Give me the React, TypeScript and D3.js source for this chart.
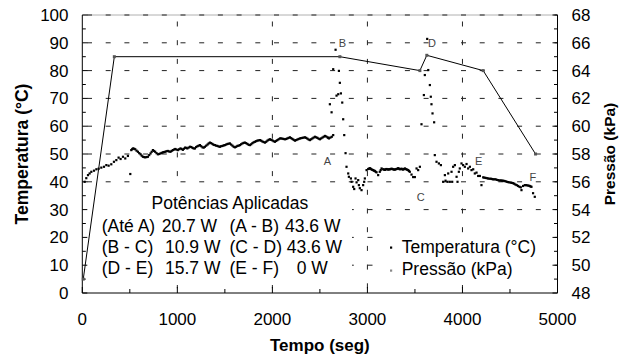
import React from "react";
import * as d3 from "d3";

// ---- data ----
const xTicks = [0, 1000, 2000, 3000, 4000, 5000];
const yLeftTicks = [0, 10, 20, 30, 40, 50, 60, 70, 80, 90, 100];
const yRightTicks = [48, 50, 52, 54, 56, 58, 60, 62, 64, 66, 68];

// line series (right axis, kPa)
const pressTime = [10, 337, 2710, 3552, 3625, 4218, 4769];
const pressValue = [49.0, 65.0, 65.0, 64.0, 65.1, 64.0, 58.0];

// scattered temperature readings (left axis, °C)
const tempStart: [number, number][] = [
  [25, 40.0], [42, 41.3], [60, 42.4], [77, 43.0], [95, 43.6], [123, 44.0], [148, 44.5], [172, 44.7],
  [200, 45.1], [228, 45.4], [253, 46.0], [277, 45.8], [305, 46.3], [333, 47.2], [358, 47.8], [382, 48.7],
  [403, 48.2], [428, 49.0], [452, 48.4], [480, 49.3], [505, 42.8], [515, 51.4], [533, 52.0], [557, 51.7],
  [585, 50.8], [613, 49.9], [638, 49.0], [662, 48.8], [690, 49.0], [718, 50.2], [743, 51.4], [767, 50.8],
  [795, 49.9], [823, 50.2], [848, 50.6], [873, 50.8], [900, 51.1], [928, 50.8], [953, 51.4], [978, 51.8],
  [1005, 51.4], [1033, 52.0], [1058, 51.5], [1082, 52.3],
  [524, 51.7], [545, 51.9], [571, 51.2], [599, 50.3], [625, 49.4], [650, 48.9], [676, 48.9], [704, 49.6],
  [730, 50.8], [755, 51.1], [781, 50.3], [809, 50.0], [835, 50.4], [860, 50.7], [886, 51.0], [914, 50.9],
  [940, 51.1], [966, 51.6], [991, 51.6], [1019, 51.7], [1045, 51.8], [1070, 51.9], [1094, 52.2],
];
const tempPlateau: [number, number][] = [
  [1105, 52.0], [1133, 52.6], [1160, 52.2], [1185, 52.0], [1212, 52.8], [1238, 53.2], [1265, 52.4], [1290, 52.6],
  [1318, 53.4], [1343, 54.1], [1370, 53.6], [1395, 53.2], [1422, 52.9], [1448, 52.6], [1475, 52.9], [1500, 53.2],
  [1527, 53.6], [1553, 53.8], [1580, 53.0], [1606, 52.4], [1632, 52.9], [1658, 53.2], [1685, 53.8], [1711, 54.1],
  [1738, 53.6], [1764, 53.2], [1790, 53.9], [1816, 54.4], [1842, 54.8], [1869, 55.0], [1895, 54.5], [1922, 54.1],
  [1948, 54.8], [1974, 55.3], [2000, 54.9], [2027, 54.4], [2053, 55.0], [2080, 55.6], [2106, 55.5], [2132, 55.3],
  [2158, 55.6], [2185, 56.0], [2211, 55.4], [2237, 54.8], [2263, 55.2], [2290, 55.6], [2316, 55.8], [2343, 56.0],
  [2369, 55.5], [2395, 55.0], [2421, 55.6], [2448, 56.2], [2474, 55.8], [2500, 55.3], [2527, 55.9], [2553, 56.5],
  [2580, 56.0], [2595, 55.6], [2625, 56.2], [2640, 56.8],
  [1119, 52.3], [1147, 52.5], [1172, 52.0], [1198, 52.5], [1225, 53.0], [1251, 52.8], [1278, 52.3], [1304, 53.0],
  [1330, 53.8], [1356, 53.9], [1382, 53.3], [1409, 53.0], [1435, 52.7], [1461, 52.8], [1488, 53.1], [1514, 53.4],
  [1540, 53.7], [1566, 53.4], [1593, 52.6], [1619, 52.6], [1645, 53.0], [1671, 53.5], [1698, 54.0], [1724, 53.9],
  [1751, 53.3], [1777, 53.5], [1803, 54.2], [1829, 54.6], [1855, 54.9], [1882, 54.8], [1908, 54.3], [1935, 54.4],
  [1961, 55.1], [1987, 55.1], [2013, 54.6], [2040, 54.7], [2066, 55.3], [2093, 55.6], [2119, 55.4], [2145, 55.4],
  [2171, 55.8], [2198, 55.7], [2224, 55.1], [2250, 55.0], [2276, 55.4], [2303, 55.7], [2329, 55.9], [2356, 55.8],
  [2382, 55.2], [2408, 55.3], [2434, 55.9], [2461, 56.0], [2487, 55.5], [2513, 55.6], [2540, 56.2], [2566, 56.3],
  [2588, 55.8], [2610, 55.9],
];
const tempPeakB: [number, number][] = [
  [2605, 67.9], [2623, 65.0], [2640, 80.5], [2665, 87.5], [2675, 71.0], [2693, 71.5], [2700, 79.9], [2710, 75.6],
  [2721, 71.8], [2735, 68.5], [2745, 62.5], [2756, 56.8], [2770, 50.3], [2780, 45.4],
];
const tempLowC: [number, number][] = [
  [2798, 43.0], [2805, 41.8], [2826, 41.2], [2833, 40.0], [2850, 38.2], [2861, 37.4], [2875, 41.2], [2886, 39.8],
  [2903, 40.6], [2910, 38.8], [2920, 37.7], [2938, 37.0], [2955, 38.8], [2966, 40.0], [2973, 41.2], [2991, 44.2],
  [3008, 44.6], [3025, 44.9], [3042, 44.5], [3060, 44.2], [3078, 43.9], [3096, 43.4], [3113, 42.4], [3130, 43.6],
  [3149, 44.8], [3166, 44.5], [3184, 44.3], [3201, 44.6], [3219, 44.4], [3236, 44.5], [3254, 44.7], [3271, 44.5],
  [3289, 44.4], [3306, 44.6], [3324, 44.9], [3341, 44.5], [3359, 44.7], [3376, 44.4], [3394, 44.8], [3411, 44.5],
  [3429, 44.2], [3446, 43.6], [3464, 42.6], [3481, 41.7], [3499, 41.7], [3517, 44.8], [3534, 44.2], [3552, 45.4],
  [3017, 44.7], [3034, 44.7], [3051, 44.3], [3069, 44.0], [3087, 43.6], [3140, 44.2], [3175, 44.4], [3193, 44.5],
  [3210, 44.5], [3228, 44.5], [3245, 44.6], [3262, 44.6], [3280, 44.4], [3297, 44.5], [3315, 44.7], [3332, 44.7],
  [3350, 44.6], [3367, 44.5], [3385, 44.6], [3402, 44.6], [3420, 44.3], [3437, 43.9],
];
const tempPeakD: [number, number][] = [
  [3569, 60.7], [3594, 71.2], [3604, 78.4], [3629, 91.4], [3640, 80.2], [3657, 74.8], [3667, 70.6], [3674, 67.9],
  [3685, 64.6], [3702, 61.4], [3709, 49.6], [3727, 47.2], [3752, 46.6], [3773, 46.0],
];
const tempEF: [number, number][] = [
  [3797, 40.0], [3815, 42.4], [3822, 40.4], [3843, 40.0], [3850, 43.0], [3867, 40.0], [3885, 43.6], [3892, 40.0],
  [3902, 45.4], [3920, 46.0], [3938, 41.8], [3948, 40.0], [3962, 43.6], [3972, 44.8], [3990, 46.6], [4007, 46.0],
  [4025, 45.4], [4043, 46.4], [4060, 44.8], [4078, 45.4], [4095, 44.2], [4113, 44.5], [4130, 43.0], [4148, 43.3],
  [4165, 42.1], [4183, 42.1], [4200, 38.8], [4218, 41.6], [4243, 41.4], [4270, 41.2], [4298, 41.1], [4322, 40.9],
  [4348, 40.9], [4375, 40.6], [4403, 40.5], [4428, 40.4], [4453, 40.2], [4480, 39.9], [4509, 39.7], [4533, 39.5],
  [4558, 39.0], [4585, 38.5], [4614, 38.0], [4621, 37.0], [4638, 38.5], [4656, 38.8], [4684, 38.7], [4708, 38.5],
  [4726, 38.2], [4743, 35.9], [4761, 34.6],
  [4230, 41.5], [4256, 41.3], [4284, 41.1], [4310, 41.0], [4335, 40.9], [4361, 40.7], [4389, 40.5], [4415, 40.4],
  [4440, 40.3], [4466, 40.0], [4494, 39.8], [4521, 39.6], [4545, 39.3], [4571, 38.8], [4600, 38.2], [4670, 38.8],
  [4696, 38.6], [4717, 38.3],
];

const pointLabels = ["A", "B", "C", "D", "E", "F"];
const pointLabelTime = [2580, 2737, 3560, 3680, 4170, 4740];
const pointLabelValue = [47.5, 90.0, 34.5, 90.0, 47.5, 41.5];

const legendItems = ["Temperatura (°C)", "Pressão (kPa)"];
const powerTitle = "Potências Aplicadas";
const powerRows = [
  ["(Até A)", "20.7 W", "(A - B)", "43.6 W"],
  ["(B - C)", "10.9 W", "(C - D)", "43.6 W"],
  ["(D - E)", "15.7 W", "(E - F)", "0 W"],
];

// ---- layout ----
const W = 620;
const H = 357;
const left = 82.3;
const right = 557.5;
const top = 15;
const bottom = 293;
const FONT = "'Liberation Sans', Arial, Helvetica, sans-serif";

export default function App() {
  const x = d3.scaleLinear().domain([0, 5000]).range([left, right]);
  const yL = d3.scaleLinear().domain([0, 100]).range([bottom, top]);
  const yR = d3.scaleLinear().domain([48, 68]).range([bottom, top]);

  const allTemp = [...tempStart, ...tempPlateau, ...tempPeakB, ...tempLowC, ...tempPeakD, ...tempEF];
  const press = pressTime.map((t, i) => [t, pressValue[i]] as [number, number]);
  const line = d3
    .line<[number, number]>()
    .x((d) => x(d[0]))
    .y((d) => yR(d[1]));

  const xMinor = d3.range(500, 5000, 1000);
  const yLMinor = d3.range(5, 100, 10);
  const yRMinor = d3.range(49, 68, 2);

  const dash = "5 13.7";

  return (
    <svg
      width={W}
      height={H}
      style={{ position: "absolute", left: 0, top: 0, background: "#fff" }}
      fontFamily={FONT}
    >
      <rect x={0} y={0} width={W} height={H} fill="#fff" />
      {/* top frame */}
      <line x1={left} x2={right} y1={top} y2={top} stroke="#b0b0b0" strokeWidth={1} />
      {/* horizontal grid */}
      {yLeftTicks.filter((v) => v > 0).map((v) => (
        <line
          key={"hg" + v}
          x1={left}
          x2={right}
          y1={yL(v)}
          y2={yL(v)}
          stroke="#222"
          strokeWidth={1}
          strokeDasharray={dash}
          strokeDashoffset={14}
        />
      ))}
      {/* vertical grid */}
      {xTicks.filter((v) => v > 0 && v < 5000).map((v) => (
        <line
          key={"vg" + v}
          x1={x(v)}
          x2={x(v)}
          y1={bottom}
          y2={top}
          stroke="#222"
          strokeWidth={1}
          strokeDasharray={dash}
          strokeDashoffset={14}
        />
      ))}

      {/* white boxes behind the text blocks */}
      <rect x={87} y={186} width={265} height={99} fill="#fff" />
      <rect x={378} y={236} width={165} height={49} fill="#fff" />

      {/* axes */}
      <line x1={left} x2={left} y1={top} y2={bottom} stroke="#000" />
      <line x1={right} x2={right} y1={top} y2={bottom} stroke="#000" />
      <line x1={left} x2={right} y1={bottom} y2={bottom} stroke="#000" />

      {/* left ticks */}
      {yLeftTicks.map((v) => (
        <g key={"yl" + v}>
          <line x1={left} x2={left + 5} y1={yL(v)} y2={yL(v)} stroke="#000" />
          <text x={68.5} y={yL(v)} dy="0.35em" textAnchor="end" fontSize={17} fill="#000">
            {v}
          </text>
        </g>
      ))}
      {yLMinor.map((v) => (
        <line key={"ylm" + v} x1={left} x2={left + 3.5} y1={yL(v)} y2={yL(v)} stroke="#000" />
      ))}
      {/* right ticks */}
      {yRightTicks.map((v) => (
        <g key={"yr" + v}>
          <line x1={right - 5} x2={right} y1={yR(v)} y2={yR(v)} stroke="#000" />
          <text x={571.5} y={yR(v)} dy="0.35em" textAnchor="start" fontSize={17} fill="#000">
            {v}
          </text>
        </g>
      ))}
      {yRMinor.map((v) => (
        <line key={"yrm" + v} x1={right - 3.5} x2={right} y1={yR(v)} y2={yR(v)} stroke="#000" />
      ))}
      {/* x ticks */}
      {xTicks.map((v) => (
        <g key={"xt" + v}>
          <line x1={x(v)} x2={x(v)} y1={bottom} y2={bottom - 6} stroke="#000" />
          <text x={x(v)} y={325} textAnchor="middle" fontSize={17} fill="#000">
            {v}
          </text>
        </g>
      ))}
      {xMinor.map((v) => (
        <line key={"xm" + v} x1={x(v)} x2={x(v)} y1={bottom} y2={bottom - 4} stroke="#000" />
      ))}

      {/* axis titles */}
      <text
        transform={`translate(28.3,${(top + bottom) / 2}) rotate(-90)`}
        textAnchor="middle"
        fontSize={17.5}
        fontWeight="bold"
      >
        Temperatura (°C)
      </text>
      <text
        transform={`translate(614.5,${(top + bottom) / 2}) rotate(-90)`}
        textAnchor="middle"
        fontSize={15.5}
        fontWeight="bold"
      >
        Pressão (kPa)
      </text>
      <text x={(left + right) / 2} y={351} textAnchor="middle" fontSize={17} fontWeight="bold">
        Tempo (seg)
      </text>

      {/* pressure line */}
      <path d={line(press) || ""} fill="none" stroke="#000" strokeWidth={1} />
      {press.map((d, i) => (
        <rect key={"pm" + i} x={x(d[0]) - 1.5} y={yR(d[1]) - 1.5} width={3} height={3} fill="#555" />
      ))}

      {/* temperature dots */}
      {allTemp.map((d, i) => (
        <rect key={"td" + i} x={x(d[0]) - 1.1} y={yL(d[1]) - 1.1} width={2.2} height={2.2} fill="#000" />
      ))}

      {/* point labels */}
      {pointLabels.map((s, i) => (
        <text
          key={"pl" + s}
          x={x(pointLabelTime[i])}
          y={yL(pointLabelValue[i])}
          textAnchor="middle"
          dy="0.35em"
          fontSize={11}
          fill="#444"
        >
          {s}
        </text>
      ))}

      {/* powers box */}
      <text x={151.5} y={208.5} fontSize={17.5} fill="#000">
        {powerTitle}
      </text>
      {powerRows.map((r, i) => {
        const yy = 231.5 + i * 21;
        const xs = [101.7, i === 0 ? 161.7 : 165, 229.5, i === 0 ? 285 : i === 1 ? 286.7 : 296.7];
        return (
          <g key={"pr" + i}>
            {r.map((s, j) => (
              <text key={j} x={xs[j]} y={yy} fontSize={17.5} fill="#000">
                {s}
              </text>
            ))}
          </g>
        );
      })}

      {/* legend */}
      {legendItems.map((s, i) => (
        <g key={"lg" + i}>
          <rect x={390} y={246.5 + i * 23} width={2.2} height={2.2} fill={i === 0 ? "#000" : "#888"} />
          <text x={401.7} y={253 + i * 22} fontSize={17.5} fill="#000">
            {s}
          </text>
        </g>
      ))}
    </svg>
  );
}
